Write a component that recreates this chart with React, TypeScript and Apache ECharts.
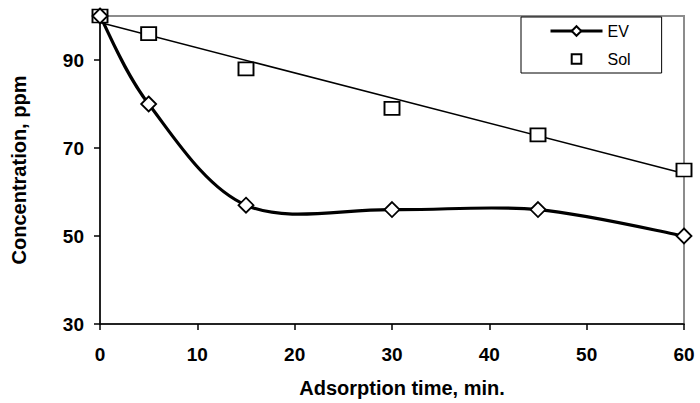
import React, { useEffect, useRef } from "react";
import * as echarts from "echarts";

const times = [0, 5, 15, 30, 45, 60];
const evValues = [100, 80, 57, 56, 56, 50];
const solValues = [100, 96, 88, 79, 73, 65];
const solTrendX = [0, 60];
const solTrendY = [98.5, 64.2];
const yTickLabels = [30, 50, 70, 90];
const xTickLabels = [0, 10, 20, 30, 40, 50, 60];

export default function App() {
  const ref = useRef<HTMLDivElement>(null);
  useEffect(() => {
    if (!ref.current) return;
    const chart = echarts.init(ref.current, null, { renderer: "svg" });
    const font = "'Liberation Sans', Arial, sans-serif";
    const evData = times.map((t, i) => [t, evValues[i]]);

    // Excel-like smoothed curve (Catmull-Rom bezier) through points mapped by the axes
    const renderEvCurve = (params: any, api: any) => {
      if (params.dataIndex !== 0) return null;
      const pts = evData.map((d) => api.coord(d));
      const n = pts.length;
      let d = `M${pts[0][0]},${pts[0][1]}`;
      for (let i = 0; i < n - 1; i++) {
        const p0 = pts[Math.max(0, i - 1)];
        const p1 = pts[i];
        const p2 = pts[i + 1];
        const p3 = pts[Math.min(n - 1, i + 2)];
        const c1x = p1[0] + (p2[0] - p0[0]) / 6;
        const c1y = p1[1] + (p2[1] - p0[1]) / 6;
        const c2x = p2[0] - (p3[0] - p1[0]) / 6;
        const c2y = p2[1] - (p3[1] - p1[1]) / 6;
        d += ` C${c1x},${c1y} ${c2x},${c2y} ${p2[0]},${p2[1]}`;
      }
      return {
        type: "path",
        shape: { pathData: d },
        style: { fill: "none", stroke: "#000", lineWidth: 3.2 },
      };
    };

    chart.setOption({
      animation: false,
      backgroundColor: "#ffffff",
      textStyle: { fontFamily: font },
      grid: {
        left: 100,
        right: 16,
        top: 16,
        bottom: 79,
        show: true,
        borderColor: "#8c8c8c",
        borderWidth: 2,
        backgroundColor: "transparent",
      },
      legend: {
        data: [
          { name: "EV", lineStyle: { color: "#000", width: 3, opacity: 1 } },
          { name: "Sol" },
        ],
        orient: "vertical",
        left: 521,
        top: 17,
        padding: [6, 31, 6, 28],
        itemWidth: 52,
        itemHeight: 12,
        itemGap: 12,
        borderColor: "#000",
        borderWidth: 1,
        backgroundColor: "#fff",
        textStyle: { fontSize: 16, color: "#000", fontFamily: font },
      },
      xAxis: {
        type: "value",
        min: 0,
        max: 60,
        interval: 10,
        name: "Adsorption time, min.",
        nameLocation: "middle",
        nameGap: 54,
        nameTextStyle: { fontSize: 20, fontWeight: "bold", color: "#000", fontFamily: font, padding: [0, 0, 0, 20] },
        axisLine: { show: true, lineStyle: { color: "#000", width: 1.5 } },
        axisTick: { show: true, length: 6, lineStyle: { color: "#000", width: 1.5 }, customValues: xTickLabels },
        axisLabel: { fontSize: 19, fontWeight: "bold", color: "#000", margin: 21, customValues: xTickLabels },
        splitLine: { show: false },
      },
      yAxis: {
        type: "value",
        min: 30,
        max: 100,
        interval: 10,
        name: "Concentration, ppm",
        nameLocation: "middle",
        nameGap: 71,
        nameTextStyle: { fontSize: 20, fontWeight: "bold", color: "#000", fontFamily: font },
        axisLine: { show: true, lineStyle: { color: "#000", width: 1.5 } },
        axisTick: { show: true, length: 6, lineStyle: { color: "#000", width: 1.5 }, customValues: yTickLabels },
        axisLabel: { fontSize: 19, fontWeight: "bold", color: "#000", margin: 16, customValues: yTickLabels },
        splitLine: { show: false },
      },
      series: [
        {
          name: "SolTrend",
          type: "line",
          data: solTrendX.map((x, i) => [x, solTrendY[i]]),
          symbol: "none",
          lineStyle: { color: "#000", width: 1.5 },
          silent: true,
          z: 1,
        },
        {
          name: "EVcurve",
          type: "custom",
          data: evData,
          encode: { x: 0, y: 1 },
          renderItem: renderEvCurve,
          silent: true,
          z: 2,
        },
        {
          name: "Sol",
          type: "line",
          data: times.map((t, i) => [t, solValues[i]]),
          symbol: "rect",
          symbolSize: [15, 13],
          showAllSymbol: true,
          lineStyle: { width: 0, opacity: 0 },
          itemStyle: { color: "#fff", borderColor: "#000", borderWidth: 1.8 },
          z: 3,
        },
        {
          name: "EV",
          type: "line",
          data: evData,
          symbol: "diamond",
          symbolSize: 15,
          showAllSymbol: true,
          lineStyle: { width: 0, opacity: 0 },
          itemStyle: { color: "#fff", borderColor: "#000", borderWidth: 1.8 },
          z: 4,
        },
      ],
    });
    return () => chart.dispose();
  }, []);
  return (
    <div
      ref={ref}
      style={{ position: "absolute", left: 0, top: 0, width: 700, height: 403 }}
    />
  );
}
